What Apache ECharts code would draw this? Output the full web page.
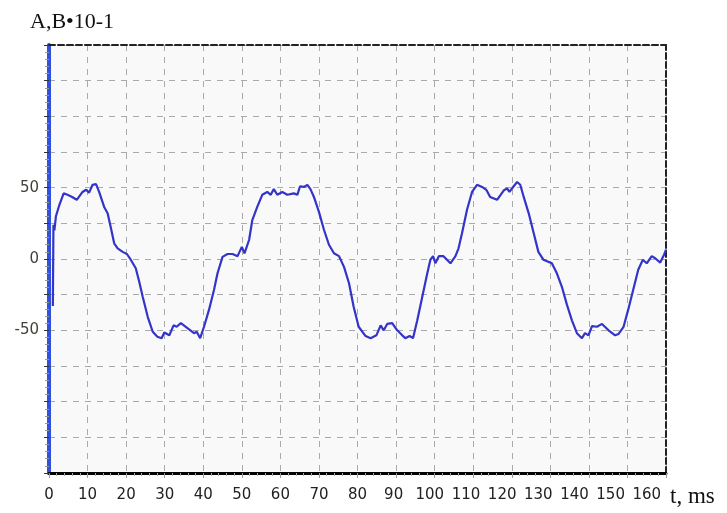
<!DOCTYPE html>
<html>
<head>
<meta charset="utf-8">
<script src="https://cdn.jsdelivr.net/npm/echarts@6/dist/echarts.min.js"></script>
<style>
  html, body { margin: 0; padding: 0; background: #fff; }
  #chart { width: 727px; height: 513px; }
</style>
</head>
<body>
<div id="chart"></div>
<script>
// Sampled current/voltage waveform, time in ms
const tMs = [
  1.0, 1.15, 1.4, 1.8, 2.7, 3.8, 4.8, 6.0, 7.2, 8.7, 9.6, 10.4, 11.3, 12.2, 13.0, 14.3, 15.2, 16.0, 16.9, 17.8,
  19.1, 20.2, 21.2, 22.5, 23.4, 24.3, 25.6, 26.9, 28.1, 29.2, 29.9, 31.2, 32.3, 33.1, 34.2, 35.9, 37.6, 38.3, 39.2, 40.2,
  41.5, 42.8, 43.7, 45.0, 46.3, 47.6, 48.9, 50.0, 50.7, 51.9, 52.7, 54.0, 55.3, 56.6, 57.5, 58.3, 59.2, 60.5, 61.8, 63.5,
  64.4, 65.1, 66.1, 67.0, 67.8, 68.7, 70.0, 71.3, 72.6, 73.9, 75.2, 76.5, 77.8, 79.0, 80.3, 82.1, 83.4, 84.9, 86.0, 86.8,
  87.7, 89.0, 90.3, 91.6, 92.4, 93.5, 94.4, 95.5, 96.8, 98.1, 98.9, 99.6, 100.2, 101.1, 102.3, 104.1, 105.4, 106.2, 107.1, 108.4,
  109.7, 111.0, 112.3, 113.4, 114.4, 116.2, 117.9, 118.8, 119.4, 120.5, 121.4, 122.2, 123.1, 124.4, 125.7, 126.9, 128.2, 130.4, 131.7, 133.0,
  134.3, 135.6, 136.9, 138.2, 139.0, 139.9, 140.8, 142.1, 143.4, 145.1, 146.8, 147.7, 149.0, 150.2, 151.5, 152.8, 154.0, 155.0, 156.3, 157.2,
  158.5, 159.5, 160.0
];
const abValues = [
  -33, 24, 20, 30, 38, 46, 45, 43.5, 41.5, 47, 48.5, 46.5, 52, 52.5, 47, 36.5, 32, 22.5, 11, 7.5,
  5, 3.5, -0.5, -6.5, -16, -26.5, -40.5, -51, -54.5, -55.5, -51.5, -53.5, -46.5, -47.5, -45, -48.5, -52, -51, -55.5, -47.5,
  -35.5, -21.5, -10, 1.5, 3.5, 3.5, 2, 8.5, 4, 13.5, 27, 36.5, 45, 47, 45, 49, 45, 47, 45, 46,
  45, 51, 50.5, 52, 49, 43.5, 33, 20.5, 10, 4, 2, -5.5, -17, -33.5, -47.5, -54, -55.5, -53.5, -46.5, -50,
  -45.5, -45, -50, -53.5, -55.5, -54, -55.5, -43, -26.5, -10, -0.5, 2, -3, 2, 2, -3, 2, 7.5, 18, 34.5,
  47, 52, 50.5, 48.5, 43.5, 41.5, 48, 49.5, 47, 51, 54, 52, 43.5, 32, 18, 5, -0.5, -3, -10, -19.5,
  -32, -43, -52, -55.5, -52, -53.5, -47, -47.5, -45.5, -50, -53.5, -52.5, -47.5, -35.5, -21.5, -7.5, -0.5, -3, 2, 0.5,
  -2.5, 3, 6.5
];
const xTickLabels = [0, 10, 20, 30, 40, 50, 60, 70, 80, 90, 100, 110, 120, 130, 140, 150, 160];
const yTickLabels = [-50, 0, 50];

const seriesData = tMs.map((t, i) => [t, abValues[i]]);

const labelFont = { fontFamily: 'DejaVu Sans', fontSize: 15, fontWeight: 'normal' };

// the wide three-digit labels sit packed a little to the left of their ticks
const labelRich = {};
xTickLabels.forEach(v => {
  const shift = Math.max(0, v - 80) * 0.24;
  labelRich['l' + v] = Object.assign({ color: '#222222', padding: [0, shift * 2, 0, 0] }, labelFont);
});

const chart = echarts.init(document.getElementById('chart'), null, { renderer: 'canvas' });

const dashGrid = { color: '#aaaaaa', width: 1, type: [6, 6] };

chart.setOption({
  animation: false,
  backgroundColor: '#ffffff',
  title: {
    text: 'A,B•10-1',
    left: 25, top: 6,
    textStyle: { fontFamily: 'Liberation Serif', fontSize: 22, fontWeight: 'normal', color: '#111' }
  },
  grid: { left: 49, right: 61, top: 45, bottom: 40, show: true, backgroundColor: '#f9f9f9', borderWidth: 0 },
  xAxis: [
    {
      type: 'value', min: 0, max: 160, interval: 10, position: 'bottom',
      name: 't, ms', nameLocation: 'end', nameGap: 4,
      nameTextStyle: { fontFamily: 'Liberation Serif', fontSize: 23, color: '#111', verticalAlign: 'top', padding: [12, 0, 0, 0] },
      axisLine: { show: true, onZero: false, lineStyle: { color: '#000', width: 3 } },
      axisTick: { show: true, length: 5, lineStyle: { color: '#999' } },
      minorTick: { show: true, splitNumber: 5, length: 3, lineStyle: { color: '#aaa' } },
      axisLabel: Object.assign({
        margin: 15,
        formatter: v => xTickLabels.includes(v) ? '{l' + v + '|' + v + '}' : '',
        rich: labelRich
      }, labelFont),
      splitLine: { show: true, lineStyle: dashGrid }
    },
    {
      type: 'value', min: 0, max: 160, position: 'top',
      axisLine: { show: true, onZero: false, lineStyle: { color: '#222', width: 2, type: [6, 3] } },
      axisTick: { show: false }, axisLabel: { show: false }, splitLine: { show: false }
    }
  ],
  yAxis: [
    {
      type: 'value', min: -150, max: 150, interval: 25, position: 'left',
      axisLine: { show: true, onZero: false, lineStyle: { color: '#3050e0', width: 4 } },
      axisTick: { show: true, length: 5, lineStyle: { color: '#333' } },
      minorTick: { show: true, splitNumber: 5, length: 4, lineStyle: { color: '#999' } },
      axisLabel: Object.assign({
        margin: 10, color: '#42423a',
        formatter: v => yTickLabels.includes(v) ? String(v) : ''
      }, labelFont),
      splitLine: { show: true, lineStyle: dashGrid }
    },
    {
      type: 'value', min: -150, max: 150, position: 'right',
      axisLine: { show: true, onZero: false, lineStyle: { color: '#222', width: 2, type: [6, 3] } },
      axisTick: { show: false }, axisLabel: { show: false }, splitLine: { show: false }
    }
  ],
  series: [
    {
      type: 'line', xAxisIndex: 0, yAxisIndex: 0,
      data: seriesData,
      showSymbol: false, smooth: false,
      lineStyle: { color: '#3434c8', width: 2.2 },
      clip: true, z: 3
    }
  ]
});
</script>
</body>
</html>
